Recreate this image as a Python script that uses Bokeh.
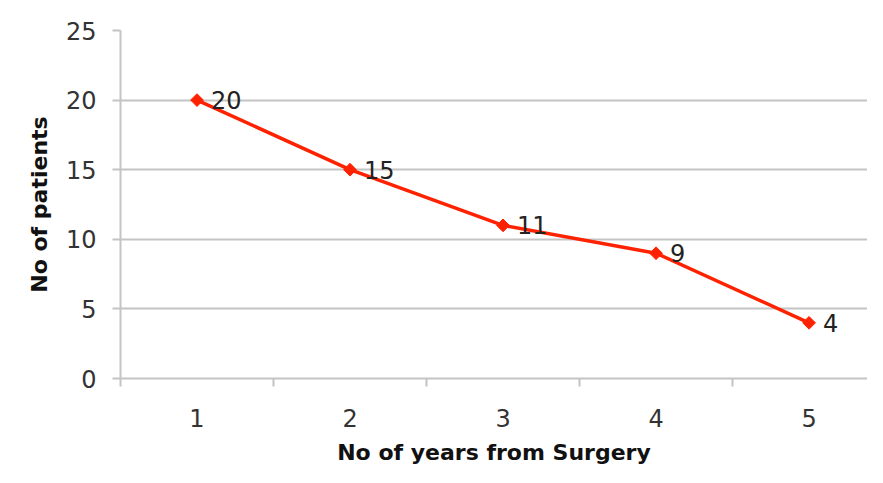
import math
from bokeh.plotting import figure
from bokeh.models import Range1d, FixedTicker, ColumnDataSource
from bokeh.core.properties import value
from bokeh.embed import file_html
from bokeh.resources import INLINE

years = [1, 2, 3, 4, 5]
patients = [20, 15, 11, 9, 4]
point_labels = ["20", "15", "11", "9", "4"]
y_ticks = [0, 5, 10, 15, 20, 25]
x_boundaries = [0.5, 1.5, 2.5, 3.5, 4.5, 5.5]

FONT = "DejaVu Sans"
GRID = "#c4c4c4"
RED = "#ff2200"

src = ColumnDataSource(dict(x=years, y=patients, t=point_labels))

p = figure(width=867, height=467, output_backend="svg", toolbar_location=None,
           x_range=Range1d(0.5, 5.382), y_range=Range1d(0, 25),
           min_border_left=120, min_border_top=30, min_border_right=0,
           min_border_bottom=89, background_fill_color="white",
           border_fill_color="white")
p.outline_line_color = None

p.xgrid.grid_line_color = None
p.ygrid.grid_line_color = GRID
p.ygrid.grid_line_width = 2

p.yaxis.ticker = FixedTicker(ticks=y_ticks)
p.yaxis.axis_line_color = GRID
p.yaxis.axis_line_width = 2
p.yaxis.major_tick_line_color = GRID
p.yaxis.major_tick_line_width = 2
p.yaxis.major_tick_in = 0
p.yaxis.major_tick_out = 8
p.yaxis.minor_tick_line_color = None
p.yaxis.major_label_standoff = 16
p.yaxis.major_label_text_font = FONT
p.yaxis.major_label_text_font_size = "24px"
p.yaxis.major_label_text_color = "#333333"
p.yaxis.axis_label = "No of patients"
p.yaxis.axis_label_text_font = FONT
p.yaxis.axis_label_text_font_style = "bold"
p.yaxis.axis_label_text_font_size = "22px"
p.yaxis.axis_label_text_color = "#111111"
p.yaxis.axis_label_standoff = 11

p.xaxis.ticker = FixedTicker(ticks=years, minor_ticks=x_boundaries)
p.xaxis.axis_line_color = GRID
p.xaxis.axis_line_width = 2
p.xaxis.major_tick_line_color = None
p.xaxis.major_tick_in = 0
p.xaxis.major_tick_out = 0
p.xaxis.minor_tick_line_color = GRID
p.xaxis.minor_tick_line_width = 2
p.xaxis.minor_tick_in = 0
p.xaxis.minor_tick_out = 8
p.xaxis.major_label_standoff = 22
p.xaxis.major_label_text_font = FONT
p.xaxis.major_label_text_font_size = "24px"
p.xaxis.major_label_text_color = "#333333"
p.xaxis.axis_label = "No of years from Surgery"
p.xaxis.axis_label_text_font = FONT
p.xaxis.axis_label_text_font_style = "bold"
p.xaxis.axis_label_text_font_size = "22px"
p.xaxis.axis_label_text_color = "#111111"
p.xaxis.axis_label_standoff = 10

p.line("x", "y", source=src, line_color=RED, line_width=3.5)
p.scatter("x", "y", source=src, marker="square", angle=math.pi / 4, size=9,
          fill_color=RED, line_color=RED)
p.text("x", "y", text="t", source=src, x_offset=14, y_offset=0,
       text_baseline="middle", text_align="left",
       text_font=value(FONT), text_font_size="24px", text_color="#222222")

open("out.html", "w").write(file_html(p, INLINE))
